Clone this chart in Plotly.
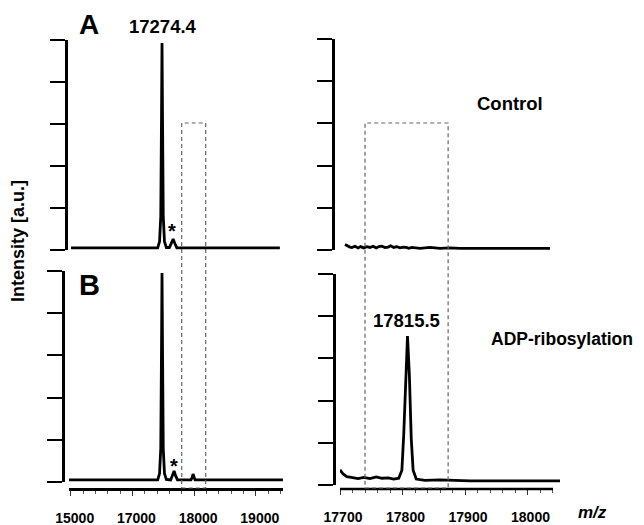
import plotly.graph_objects as go

# ---------------- data ----------------
# Left column (full range), x in m/z as placed on the drawn axis, y in a.u. (tick units)
left_a_mz = [16005, 17410, 17440, 17460, 17472, 17480, 17488, 17500, 17520, 17550,
             17600, 17630, 17660, 17690, 17720, 19390]
left_a_int = [0.05, 0.05, 0.2, 0.8, 3.2, 4.93, 3.2, 0.8, 0.2, 0.06,
              0.06, 0.15, 0.26, 0.15, 0.05, 0.05]

left_b_mz = [15973, 17410, 17440, 17460, 17472, 17480, 17488, 17500, 17520, 17550,
             17620, 17650, 17676, 17700, 17730, 17950, 17970, 17983, 17996, 18015, 19440]
left_b_int = [0.05, 0.05, 0.2, 0.8, 3.2, 4.95, 3.2, 0.8, 0.2, 0.06,
              0.05, 0.15, 0.26, 0.15, 0.05, 0.05, 0.11, 0.19, 0.11, 0.05, 0.05]

# Right column (zoom)
right_a_mz = [17708, 17710, 17713, 17716, 17719, 17724, 17729, 17733, 17738, 17743, 17748,
              17753, 17758, 17762, 17767, 17772, 17777, 17781, 17786, 17791, 17796,
              17801, 17806, 17810, 17815, 17828, 17844, 17860, 17876, 17892, 18036]
right_a_int = [0.13, 0.11, 0.10, 0.07, 0.06, 0.09, 0.05, 0.08, 0.05, 0.08, 0.06,
               0.09, 0.05, 0.08, 0.09, 0.06, 0.07, 0.10, 0.06, 0.08, 0.05,
               0.07, 0.06, 0.04, 0.06, 0.04, 0.06, 0.04, 0.05, 0.04, 0.04]

right_b_mz = [17700, 17705, 17711, 17719, 17729, 17738, 17748, 17758, 17767, 17777,
              17786, 17794, 17799, 17802, 17806, 17808, 17811, 17814, 17817, 17822,
              17836, 17860, 17884, 17908, 18052]
right_b_int = [0.36, 0.26, 0.20, 0.17, 0.15, 0.18, 0.15, 0.19, 0.16, 0.17,
               0.14, 0.16, 0.35, 1.2, 2.8, 3.53, 2.6, 1.1, 0.35, 0.14,
               0.11, 0.12, 0.11, 0.10, 0.10]

# tick labels
left_tickvals = [16000, 17000, 18000, 19000]
left_ticktext = ["15000", "17000", "18000", "19000"]
right_tickvals = [17700, 17800, 17900, 18000]
right_ticktext = ["17700", "17800", "17900", "18000"]
y_tickvals = [0, 1, 2, 3, 4, 5]

# zoom windows (dashed boxes)
left_box = [17799, 18188]
right_box = [17740, 17873]

peak_a_label = "17274.4"
peak_b_label = "17815.5"

# ---------------- layout helpers ----------------
# the page body has an 8px margin, so the figure is drawn 8px smaller and offset
OFF = 8
W, H = 644 - OFF, 525 - OFF
def fx(p):
    return (p - OFF) / W
def fy(p):
    return 1 - (p - OFF) / H

FONT = "Liberation Sans, Arial, sans-serif"
BLACK = "#000000"

fig = go.Figure()
line = dict(color=BLACK, width=2.8)
fig.add_trace(go.Scatter(x=left_a_mz, y=left_a_int, mode="lines", line=line, xaxis="x", yaxis="y"))
fig.add_trace(go.Scatter(x=right_a_mz, y=right_a_int, mode="lines", line=line, xaxis="x2", yaxis="y2"))
fig.add_trace(go.Scatter(x=left_b_mz, y=left_b_int, mode="lines", line=line, xaxis="x3", yaxis="y3"))
fig.add_trace(go.Scatter(x=right_b_mz, y=right_b_int, mode="lines", line=line, xaxis="x4", yaxis="y4"))

# left mapping: px = 70.7 + (v-16000)*0.0617 ; right mapping: px = 340 + (v-17700)*0.625
def lv(p):
    return 16000 + (p - 70.7) / 0.0617
def rv(p):
    return 17700 + (p - 340) / 0.625

tickfont = dict(family=FONT, size=14, color=BLACK, weight="bold")

def yax(top, bottom, xpos):
    return dict(domain=[fy(bottom), fy(top)], range=[0, 5], anchor="free", position=fx(xpos),
                showline=True, linewidth=3, linecolor=BLACK, ticks="outside", ticklen=15,
                tickwidth=2, tickcolor=BLACK, tickvals=y_tickvals, showticklabels=False,
                showgrid=False, zeroline=False, fixedrange=True, automargin=False)

fig.update_layout(
    width=W, height=H, margin=dict(l=0, r=0, t=0, b=0, pad=0), autosize=False,
    paper_bgcolor="white", plot_bgcolor="white", showlegend=False,
    xaxis=dict(domain=[fx(69), fx(283)], range=[lv(69), lv(283)], anchor="y", visible=False,
               automargin=False),
    yaxis=yax(40, 250, 66),
    xaxis2=dict(domain=[fx(340), fx(561)], range=[rv(340), rv(561)], anchor="y2", visible=False,
                automargin=False),
    yaxis2=yax(39, 250, 333),
    xaxis3=dict(domain=[fx(69), fx(283)], range=[lv(69), lv(283)], anchor="free", position=fy(489),
                showline=True, linewidth=2.5, linecolor=BLACK, ticks="outside", ticklen=5,
                tickwidth=1, tickcolor="#333", tickvals=left_tickvals, ticktext=left_ticktext,
                tickfont=tickfont, ticklabelstandoff=10, ticklabelshift=4,
                minor=dict(tick0=16000, dtick=200, ticks="outside", ticklen=3, tickwidth=1,
                           tickcolor="#555", showgrid=False),
                showgrid=False, zeroline=False, automargin=False),
    yaxis3=yax(271, 482, 63),
    xaxis4=dict(domain=[fx(340), fx(561)], range=[rv(340), rv(561)], anchor="free", position=fy(489),
                showline=False, ticks="outside", ticklen=5,
                tickwidth=1, tickcolor="#333", tickvals=right_tickvals, ticktext=right_ticktext,
                tickfont=tickfont, ticklabelstandoff=10, ticklabelshift=3,
                minor=dict(tick0=17700, dtick=20, ticks="outside", ticklen=3, tickwidth=1,
                           tickcolor="#555", showgrid=False),
                showgrid=False, zeroline=False, automargin=False),
    yaxis4=yax(274, 485, 334),
)

# bottom axis line of right zoom panel
fig.add_shape(type="line", xref="x4", yref="paper", x0=rv(340), x1=rv(553), y0=fy(489), y1=fy(489),
              line=dict(color=BLACK, width=2.5))

# dashed zoom boxes
dash = dict(color="#666666", width=1.2, dash="4px,3px")
fig.add_shape(type="rect", xref="x3", yref="paper", x0=left_box[0], x1=left_box[1],
              y0=fy(488), y1=fy(123), line=dash, layer="above")
fig.add_shape(type="rect", xref="x4", yref="paper", x0=right_box[0], x1=right_box[1],
              y0=fy(488), y1=fy(123), line=dash, layer="above")

def ann(text, x, y, size, angle=0):
    fig.add_annotation(text=text, x=fx(x), y=fy(y), xref="paper", yref="paper",
                       showarrow=False, xanchor="center", yanchor="middle", textangle=angle,
                       font=dict(family=FONT, size=size, color=BLACK, weight="bold"))

ann("A", 89, 25, 28)
ann("B", 89, 285, 29)
ann(peak_a_label, 163, 26, 18.5)
ann(peak_b_label, 406, 320, 18.5)
ann("*", 172, 231, 20)
ann("*", 174, 466, 20)
ann("Control", 510, 103, 18.5)
ann("ADP-ribosylation", 562, 339, 17.5)
ann("Intensity [a.u.]", 18, 241, 18, angle=-90)
ann("<i>m/z</i>", 592, 512, 17)

fig.write_html("out.html")
